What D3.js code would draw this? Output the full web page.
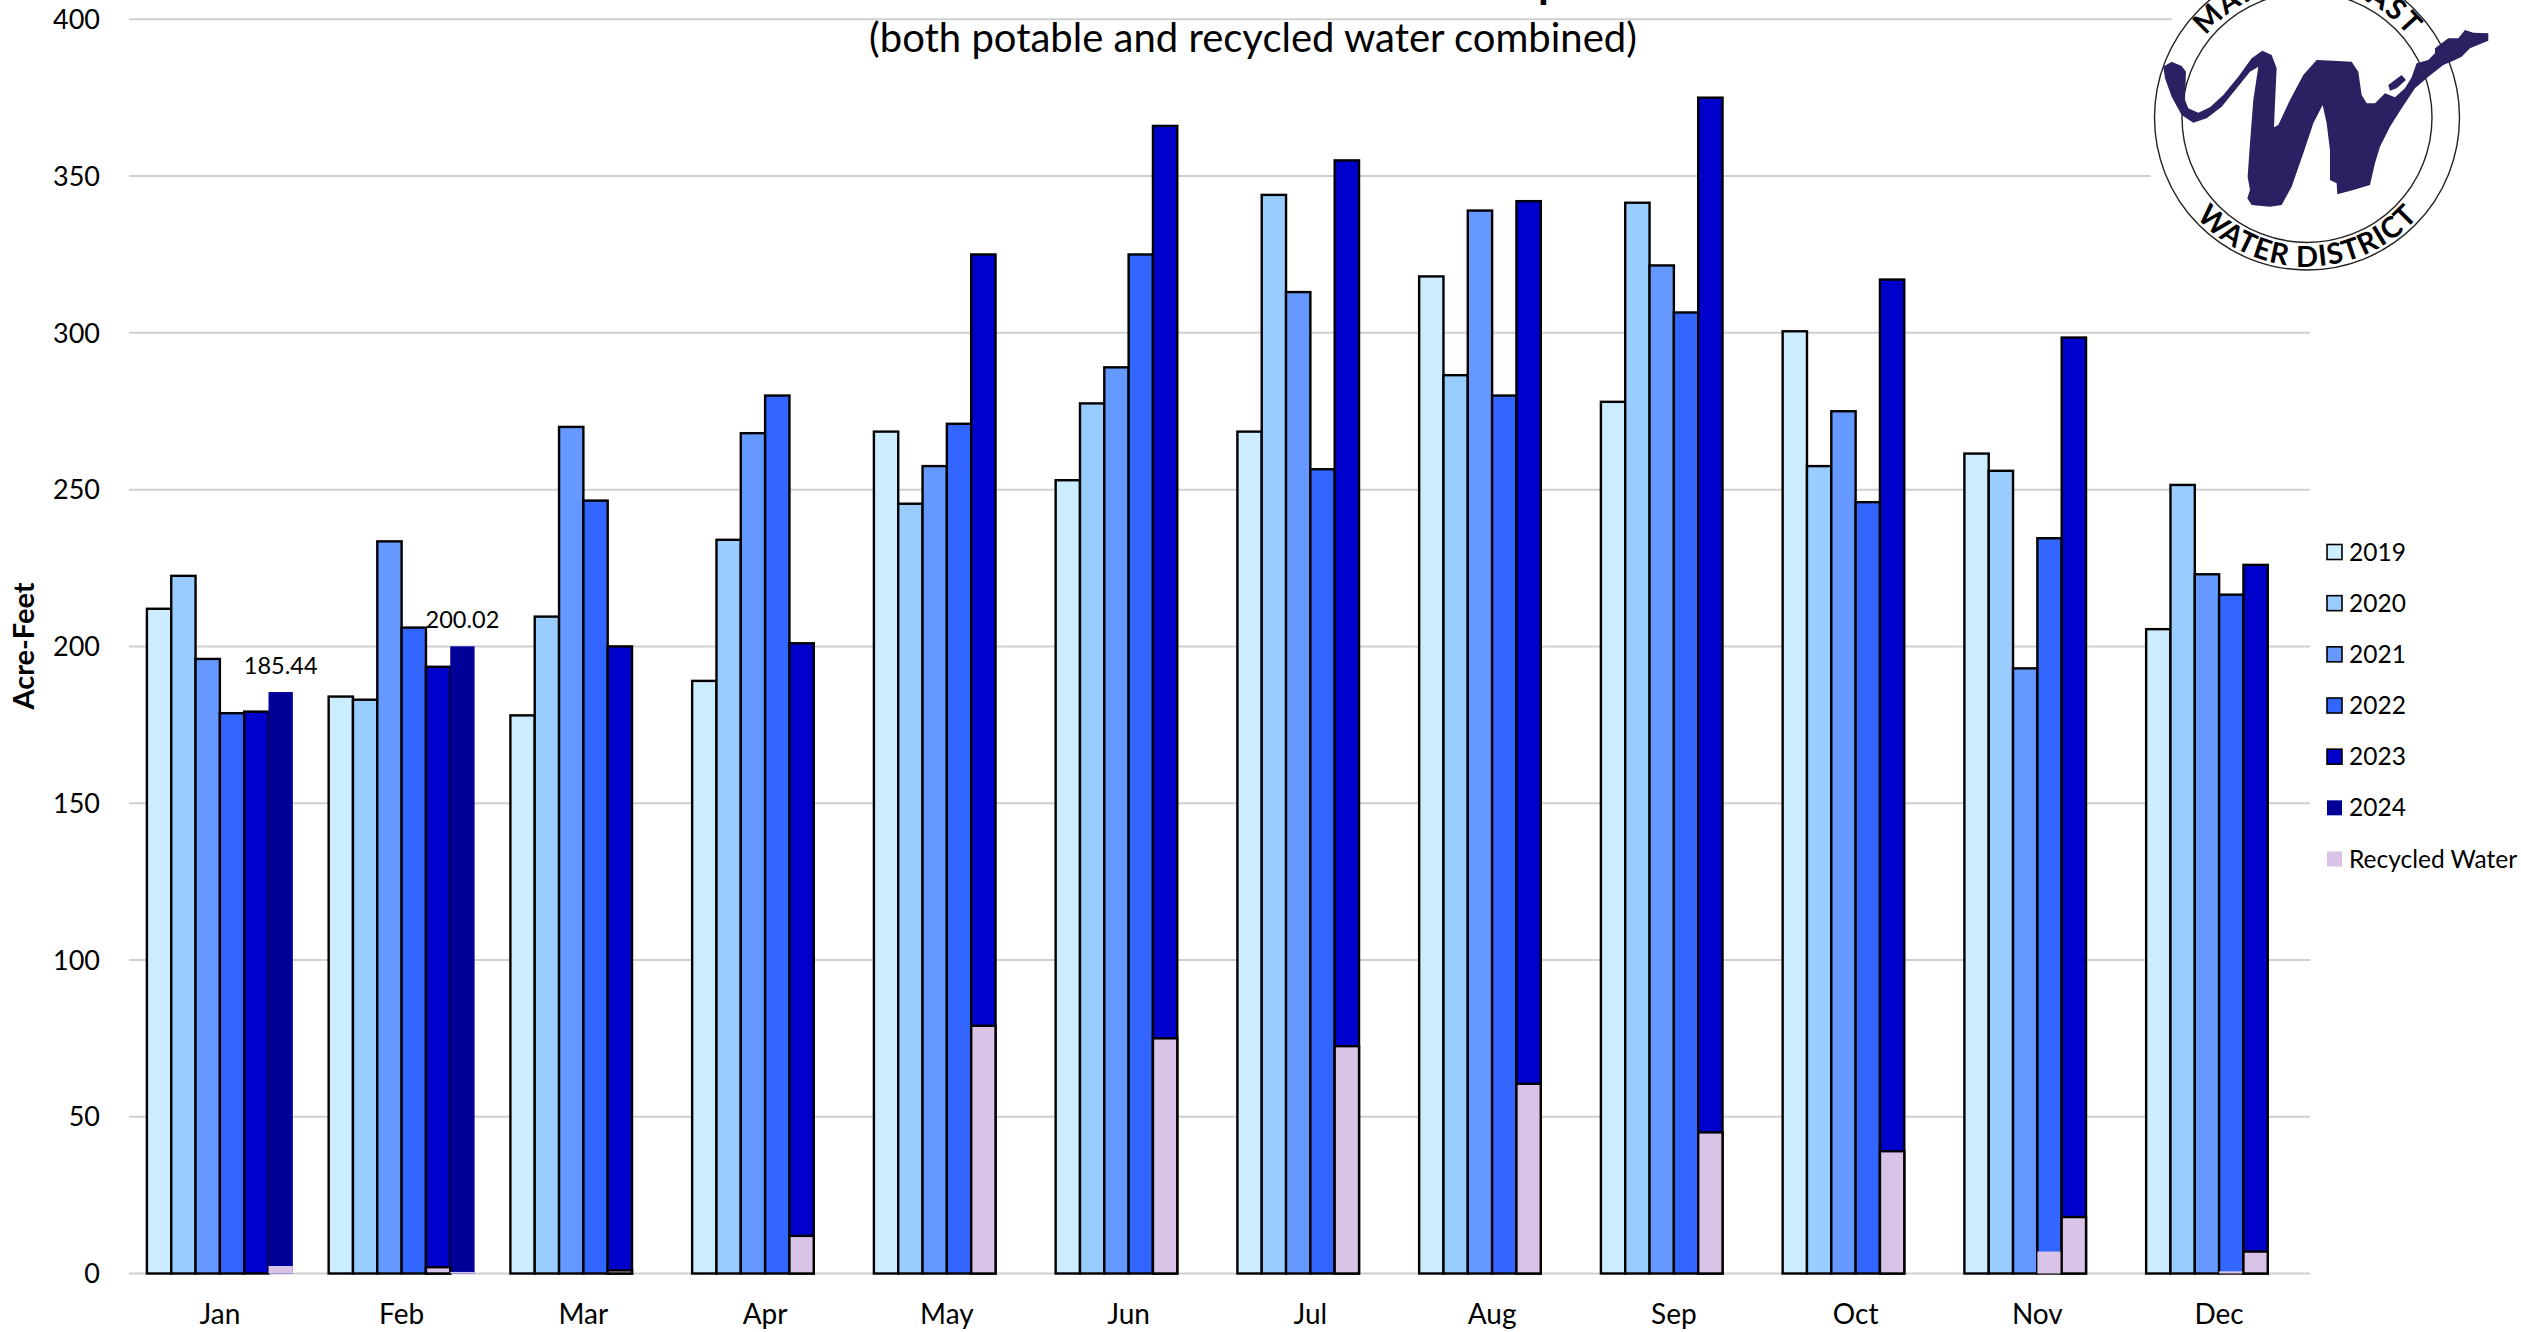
<!DOCTYPE html>
<html>
<head>
<meta charset="utf-8">
<script src="https://cdn.jsdelivr.net/npm/d3@7"></script>
<style>
  html, body { margin: 0; padding: 0; background: #fff; overflow: hidden; }
  text { font-family: Lato, "Open Sans", sans-serif; fill: #000; }
</style>
</head>
<body>
<svg id="chart"></svg>
<script>
const width = 2521, height = 1332;
const margin = { top: 19.3, right: 211, bottom: 58.5, left: 129 };

const months = ["Jan", "Feb", "Mar", "Apr", "May", "Jun", "Jul", "Aug", "Sep", "Oct", "Nov", "Dec"];
const years = ["2019", "2020", "2021", "2022", "2023", "2024"];
const yTicks = [0, 50, 100, 150, 200, 250, 300, 350, 400];

const values2019 = [212, 184, 178, 189, 268.5, 253, 268.5, 318, 278, 300.5, 261.5, 205.5];
const values2020 = [222.5, 183, 209.5, 234, 245.5, 277.5, 344, 286.5, 341.5, 257.5, 256, 251.5];
const values2021 = [196, 233.5, 270, 268, 257.5, 289, 313, 339, 321.5, 275, 193, 223];
const values2022 = [178.7, 206, 246.5, 280, 271, 325, 256.5, 280, 306.5, 246, 234.5, 216.5];
const values2023 = [179.2, 193.5, 200, 201, 325, 366, 355, 342, 375, 317, 298.5, 226];
const values2024 = [185.44, 200.02, null, null, null, null, null, null, null, null, null, null];

// recycled part of each bar, only where it can be seen
const recycled2022 = [null, null, null, null, null, null, null, null, null, null, 7, 0.7];
const recycled2023 = [null, 2, 1, 12, 79, 75, 72.5, 60.5, 45, 39, 18, 7];
const recycled2024 = [2.4, 0.5, null, null, null, null, null, null, null, null, null, null];

const yearColors = ["#CCECFF", "#99CCFF", "#6699FF", "#3366FF", "#0000CC", "#000099"];
const recycledColor = "#D9C4E8";
const yearStroke = ["#000", "#000", "#000", "#000", "#000", "none"];

const legendLabels = years.concat(["Recycled Water"]);
const legendColors = yearColors.concat([recycledColor]);
const legendStroke = yearStroke.concat(["none"]);

const seriesValues = [values2019, values2020, values2021, values2022, values2023, values2024];

const svg = d3.select("#chart")
    .attr("width", width)
    .attr("height", height)
    .style("display", "block");

const x0 = d3.scaleBand()
    .domain(months)
    .range([margin.left, width - margin.right])
    .paddingInner(0.197)
    .paddingOuter(0.0985);

const x1 = d3.scaleBand()
    .domain(years)
    .range([0, x0.bandwidth()]);

const y = d3.scaleLinear()
    .domain([0, 400])
    .range([height - margin.bottom, margin.top]);

// ------------------- grid and axes -------------------

svg.append("g")
    .selectAll("line")
    .data(yTicks)
    .join("line")
    .attr("x1", margin.left)
    .attr("x2", width - margin.right)
    .attr("y1", d => y(d))
    .attr("y2", d => y(d))
    .attr("stroke", "#D0D0D0")
    .attr("stroke-width", 2);

svg.append("g")
    .selectAll("text")
    .data(yTicks)
    .join("text")
    .attr("x", 100)
    .attr("y", d => y(d) + 9.7)
    .attr("text-anchor", "end")
    .attr("font-size", 27)
    .text(d => d);

svg.append("g")
    .selectAll("text")
    .data(months)
    .join("text")
    .attr("x", d => x0(d) + x0.bandwidth() / 2)
    .attr("y", 1324)
    .attr("text-anchor", "middle")
    .attr("font-size", 28)
    .text(d => d);

svg.append("text")
    .attr("transform", "translate(34,646) rotate(-90)")
    .attr("text-anchor", "middle")
    .attr("font-size", 29)
    .attr("font-weight", 700)
    .text("Acre-Feet");

// ------------------- bars -------------------

const barData = [];
seriesValues.forEach((vals, i) => {
    vals.forEach((v, m) => {
        if (v !== null) barData.push({ month: months[m], year: years[i], value: v, series: i });
    });
});

svg.append("g")
    .selectAll("rect")
    .data(barData)
    .join("rect")
    .attr("x", d => x0(d.month) + x1(d.year))
    .attr("y", d => y(d.value))
    .attr("width", x1.bandwidth())
    .attr("height", d => y(0) - y(d.value))
    .attr("fill", d => yearColors[d.series])
    .attr("stroke", d => yearStroke[d.series])
    .attr("stroke-width", 2.4);

const recycledData = [];
[["2022", recycled2022, "none"], ["2023", recycled2023, "#000"], ["2024", recycled2024, "none"]].forEach(s => {
    s[1].forEach((v, m) => {
        if (v !== null) recycledData.push({ month: months[m], year: s[0], value: v, stroke: s[2] });
    });
});

svg.append("g")
    .selectAll("rect")
    .data(recycledData)
    .join("rect")
    .attr("x", d => x0(d.month) + x1(d.year))
    .attr("y", d => y(d.value))
    .attr("width", x1.bandwidth())
    .attr("height", d => y(0) - y(d.value))
    .attr("fill", recycledColor)
    .attr("stroke", d => d.stroke)
    .attr("stroke-width", 2.4);

// value labels over the 2024 bars
svg.append("g")
    .selectAll("text")
    .data(barData.filter(d => d.year === "2024"))
    .join("text")
    .attr("x", d => x0(d.month) + x1(d.year) + x1.bandwidth() / 2)
    .attr("y", d => y(d.value) - 18)
    .attr("text-anchor", "middle")
    .attr("font-size", 23.5)
    .text(d => d.value.toFixed(2));

// ------------------- titles -------------------

// the main title is cut off by the page, only this descender shows
svg.append("text")
    .attr("x", 1538)
    .attr("y", -2.5)
    .attr("font-size", 44)
    .attr("font-weight", 700)
    .text("p");

svg.append("text")
    .attr("x", 1253)
    .attr("y", 52)
    .attr("text-anchor", "middle")
    .attr("font-size", 40)
    .text("(both potable and recycled water combined)");

// ------------------- legend -------------------

const legendY = d3.scalePoint()
    .domain(legendLabels)
    .range([552, 859]);

const legend = svg.append("g")
    .selectAll("g")
    .data(legendLabels)
    .join("g")
    .attr("transform", d => `translate(2327,${legendY(d)})`);

legend.append("rect")
    .attr("x", 0)
    .attr("y", -7.5)
    .attr("width", 15)
    .attr("height", 15)
    .attr("fill", (d, i) => legendColors[i])
    .attr("stroke", (d, i) => legendStroke[i])
    .attr("stroke-width", 1.6);

legend.append("text")
    .attr("x", 22)
    .attr("y", 8.5)
    .attr("font-size", 24.5)
    .text(d => d);

// ------------------- logo -------------------

const logoX = 2307, logoY = 117.5;
const logo = svg.append("g").attr("transform", `translate(${logoX},${logoY})`);

logo.append("circle").attr("r", 167).attr("fill", "#fff");
[152.5, 125].forEach(r => {
    logo.append("circle")
        .attr("r", r)
        .attr("fill", "none")
        .attr("stroke", "#222")
        .attr("stroke-width", 1.4);
});

const defs = svg.append("defs");
defs.append("path")
    .attr("id", "logo-top")
    .attr("d", "M-130,0A130,130 0 0 1 130,0");
defs.append("path")
    .attr("id", "logo-bottom")
    .attr("d", "M-149,0A149,149 0 0 0 149,0");

[["#logo-top", "MARINA COAST", 232], ["#logo-bottom", "WATER DISTRICT", 250]].forEach(t => {
    logo.append("text")
        .attr("font-size", 29)
        .attr("font-weight", 700)
        .attr("text-anchor", "middle")
        .append("textPath")
        .attr("href", t[0])
        .attr("startOffset", "50%")
        .attr("textLength", t[2])
        .text(t[1]);
});

// W drawn by hand from the reference, in 3x crop coordinates
const logoShape = [[190,200],[215,185],[245,198],[258,215],[255,300],[265,325],[295,338],[330,322],[370,285],[415,230],[455,175],[487,152],[515,165],[530,205],[525,310],[522,382],[535,375],[570,300],[610,225],[650,180],[700,182],[755,185],[775,215],[785,285],[800,310],[825,310],[855,280],[885,292],[915,265],[935,232],[950,190],[985,180],[1005,160],[1005,145],[1045,115],[1075,115],[1095,90],[1120,98],[1165,100],[1165,122],[1110,145],[1085,170],[1065,180],[1030,195],[985,230],[945,265],[905,325],[870,380],[840,440],[825,490],[810,555],[760,570],[712,583],[710,550],[690,540],[690,450],[680,370],[668,315],[640,370],[610,460],[575,560],[545,615],[510,620],[455,615],[442,595],[450,570],[443,530],[450,430],[460,300],[475,200],[450,215],[410,265],[365,320],[320,355],[280,368],[245,345],[215,290],[195,235]];
const logoIsland = [[865,255],[905,225],[918,240],[890,265],[870,272]];

[logoShape, logoIsland].forEach(shape => {
    svg.append("path")
        .attr("transform", "translate(2100,0) scale(0.3333)")
        .attr("d", d3.line().curve(d3.curveLinearClosed)(shape))
        .attr("fill", "#2B2162");
});
</script>
</body>
</html>
